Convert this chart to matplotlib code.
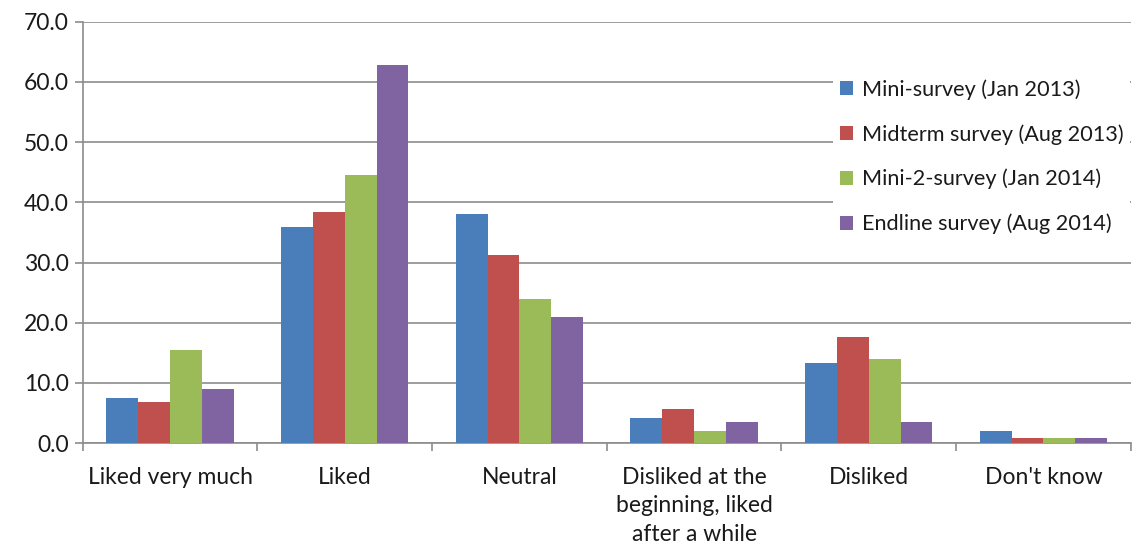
import matplotlib
matplotlib.use("Agg")
import matplotlib.pyplot as plt
import numpy as np

categories = ["Liked very much", "Liked", "Neutral",
              "Disliked at the\nbeginning, liked\nafter a while", "Disliked", "Don't know"]
series_names = ["Mini-survey (Jan 2013)", "Midterm survey (Aug 2013)",
                "Mini-2-survey (Jan 2014)", "Endline survey (Aug 2014)"]
mini_2013 = [7.5, 35.9, 38.1, 4.1, 13.3, 2.0]
midterm_2013 = [6.9, 38.4, 31.3, 5.6, 17.6, 0.8]
mini2_2014 = [15.4, 44.5, 24.0, 2.0, 13.9, 0.8]
endline_2014 = [9.0, 62.8, 20.9, 3.5, 3.5, 0.8]
yticks = [0, 10, 20, 30, 40, 50, 60, 70]

colors = ["#4a7ebb", "#c0504d", "#9bbb59", "#8064a2"]
plt.rcParams['font.family'] = ['Lato', 'DejaVu Sans']

fig = plt.figure(figsize=(11.33, 5.43), dpi=100)
ax = fig.add_axes([0.073, 0.184, 0.925, 0.776])

data = [mini_2013, midterm_2013, mini2_2014, endline_2014]
x = np.arange(len(categories))
w = 0.182
for i, (vals, name, c) in enumerate(zip(data, series_names, colors)):
    ax.bar(x + (i - 1.5) * w, vals, width=w, color=c, label=name, zorder=3)

fs = 16.5
ax.set_xlim(-0.5, len(categories) - 0.5)
ax.set_ylim(0, 70)
ax.set_yticks(yticks)
ax.set_yticklabels([f"{v:.1f}" for v in yticks], fontsize=fs, color="#1a1a1a")
ax.yaxis.grid(True, color="#8c8c8c", linewidth=1.2, zorder=0)
ax.set_xticks(x)
ax.set_xticklabels(categories, fontsize=fs, linespacing=1.45, color="#1a1a1a")
ax.tick_params(axis='x', length=0, pad=17)
ax.set_xticks(np.arange(-0.5, len(categories) + 0.5, 1), minor=True)
ax.tick_params(axis='x', which='minor', length=6, color="#8c8c8c", width=1.2)
ax.tick_params(axis='y', length=6, color="#8c8c8c", width=1.2, pad=4)
for s in ["top", "right"]:
    ax.spines[s].set_visible(False)
for s in ["left", "bottom"]:
    ax.spines[s].set_color("#8c8c8c")
    ax.spines[s].set_linewidth(1.2)

leg = ax.legend(loc="upper left", bbox_to_anchor=(0.706, 0.905), frameon=True, fontsize=15.6,
                handlelength=0.62, handleheight=0.62, handletextpad=0.4, labelspacing=1.12,
                facecolor="white", edgecolor="none", framealpha=1.0, borderpad=0.3,
                fancybox=False)
for t in leg.get_texts():
    t.set_color("#1a1a1a")
leg.set_zorder(5)

fig.savefig("out.png", dpi=100)
